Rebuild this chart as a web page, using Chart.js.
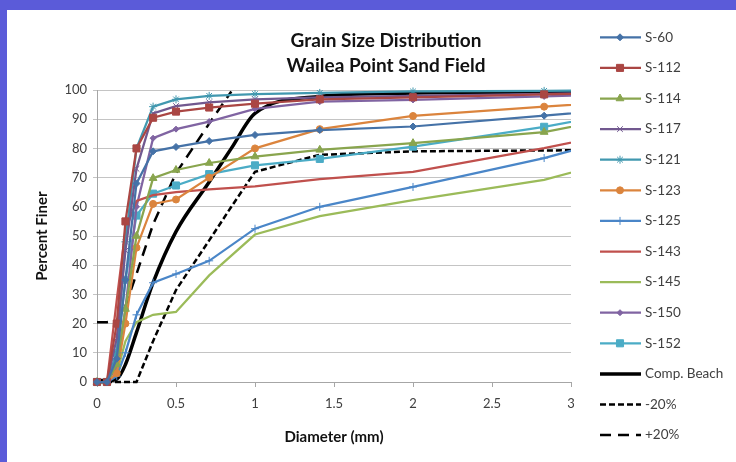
<!DOCTYPE html>
<html>
<head>
<meta charset="utf-8">
<script src="https://cdn.jsdelivr.net/npm/chart.js@4.4.1/dist/chart.umd.min.js"></script>
<style>
    html, body { margin: 0; padding: 0; }
    body { width: 736px; height: 462px; background: #5b5bd9; position: relative; overflow: hidden; }
    .panel { position: absolute; left: 7px; top: 10px; right: 0; bottom: 0; background: #fff; }
    #chart { position: absolute; left: 0; top: 0; }
</style>
</head>
<body>
<div class="panel"></div>
<canvas id="chart" width="736" height="462"></canvas>
<script>
const titleLines = ['Grain Size Distribution', 'Wailea Point Sand Field'];
const xTicks = [0, 0.5, 1, 1.5, 2, 2.5, 3];

// sieve openings (mm)
const sieveSizes = [0, 0.063, 0.125, 0.18, 0.25, 0.355, 0.5, 0.71, 1.0, 1.41, 2.0, 2.83, 4.0];
const compSizes = [0, 0.063, 0.125, 0.18, 0.25, 0.355, 0.5, 0.71, 0.85, 1.0, 1.41, 2.0, 2.83, 4.0];
const plusSizes = [0, 0.063, 0.125, 0.18, 0.25, 0.355, 0.5, 0.71, 0.85];

// percent finer per sample
const s60 = [0, 0, 8, 35, 68, 79, 80.5, 82.5, 84.6, 86.3, 87.5, 91.2, 96.7];
const s112 = [0, 0, 20, 55, 80, 90.5, 92.6, 94, 95.3, 96.8, 97.5, 98.5, 99.5];
const s114 = [0, 0, 6, 25, 50, 69.8, 72.6, 75, 77.2, 79.5, 81.8, 85.6, 98];
const s117 = [0, 0, 15, 45, 73, 92, 94.5, 95.8, 96.8, 97.5, 98, 98.7, 99.5];
const s121 = [0, 0, 10, 48, 80, 94.3, 96.8, 98, 98.6, 99, 99.5, 99.7, 100];
const s123 = [0, 0, 3, 20, 46, 61, 62.5, 70, 80, 86.6, 91.1, 94.3, 98.4];
const s125 = [0, 0, 2, 10, 23, 34, 37, 41.5, 52.5, 60, 66.8, 76.7, 93.9];
const s143 = [0, 0, 28, 52, 62, 64, 65, 66, 67, 69.5, 72, 80.1, 93];
const s145 = [0, 0, 3, 14, 20.5, 23, 24, 36.5, 50.5, 56.8, 62.3, 69.2, 86.4];
const s150 = [0, 0, 5, 25, 60, 83.5, 86.6, 89.2, 93.5, 96, 96.6, 97.8, 99.5];
const s152 = [0, 0, 10, 35, 57, 64.5, 67.3, 71.2, 74.2, 76.4, 80.6, 87.4, 99.1];
const compBeach = [0.5, 0.5, 1, 6, 17, 34, 51.5, 68.5, 80, 92, 97.8, 99, 99.3, 99.6];
const minus20 = [0, 0, 0, 0, 0, 14, 31.5, 48.5, 60, 72, 77.8, 79, 79.3, 79.6];
const plus20 = [20.5, 20.5, 21, 26, 37, 54, 71.5, 88.5, 99.5];

const FONT = 'Lato, "Open Sans", sans-serif';
const CLIP = { left: 8, top: 4, right: 0, bottom: 8 };

function pts(xs, ys) {
    return ys.map((y, i) => ({ x: xs[i], y }));
}

function sample(label, values, color, style, radius) {
    return {
        label,
        data: pts(sieveSizes, values),
        borderColor: color,
        backgroundColor: color,
        pointBackgroundColor: color,
        pointBorderColor: color,
        borderWidth: 2.25,
        pointStyle: style || 'circle',
        pointRadius: style ? radius : 0,
        pointBorderWidth: 1,
        showLine: true,
        clip: CLIP,
    };
}

const datasets = [
    sample('S-60', s60, '#4572a7', 'rectRot', 3.5),
    sample('S-112', s112, '#aa4643', 'rect', 5),
    sample('S-114', s114, '#89a54e', 'triangle', 4.5),
    sample('S-117', s117, '#71588f', 'crossRot', 4),
    sample('S-121', s121, '#4198af', 'star', 4),
    sample('S-123', s123, '#db843d', 'circle', 3.5),
    sample('S-125', s125, '#4a86c8', 'cross', 4),
    sample('S-143', s143, '#c0504d'),
    sample('S-145', s145, '#9bbb59'),
    sample('S-150', s150, '#8064a2', 'rectRot', 3),
    sample('S-152', s152, '#4bacc6', 'rect', 5),
    {
        label: 'Comp. Beach', data: pts(compSizes, compBeach), borderColor: '#000', borderWidth: 3.5,
        pointRadius: 0, showLine: true, cubicInterpolationMode: 'monotone', clip: CLIP,
    },
    {
        label: '-20%', data: pts(compSizes, minus20), borderColor: '#000', borderWidth: 2.5, borderDash: [6, 3],
        pointRadius: 0, showLine: true, clip: CLIP,
    },
    {
        label: '+20%', data: pts(plusSizes, plus20), borderColor: '#000', borderWidth: 2.5, borderDash: [11, 7],
        pointRadius: 0, showLine: true, clip: CLIP,
    },
];

const overlay = {
    id: 'overlay',
    afterDraw(chart) {
        const ctx = chart.ctx;
        ctx.save();
        ctx.fillStyle = '#111';
        ctx.font = 'bold 19px ' + FONT;
        ctx.textAlign = 'center';
        ctx.textBaseline = 'middle';
        titleLines.forEach((t, i) => ctx.fillText(t, 386, 41 + i * 25));

        chart.data.datasets.forEach((ds, i) => {
            const y = 37.3 + i * 30.6;
            ctx.strokeStyle = ds.borderColor;
            ctx.lineWidth = ds.borderWidth;
            ctx.setLineDash(ds.borderDash || []);
            ctx.beginPath();
            ctx.moveTo(600, y);
            ctx.lineTo(641, y);
            ctx.stroke();
            ctx.setLineDash([]);
            if (ds.pointRadius > 0) {
                ctx.fillStyle = ds.pointBackgroundColor;
                ctx.strokeStyle = ds.pointBorderColor;
                ctx.lineWidth = 1;
                Chart.helpers.drawPoint(ctx, { pointStyle: ds.pointStyle, radius: ds.pointRadius, borderWidth: 1, rotation: 0 }, 620, y);
            }
            ctx.fillStyle = '#404040';
            ctx.font = '13.5px ' + FONT;
            ctx.textAlign = 'left';
            ctx.fillText(ds.label, 645, y);
        });
        ctx.restore();
    },
};

new Chart(document.getElementById('chart'), {
    type: 'scatter',
    data: { datasets },
    options: {
        responsive: false,
        animation: false,
        layout: { padding: { top: 90, right: 165, bottom: 0, left: 0 } },
        plugins: { legend: { display: false }, title: { display: false }, tooltip: { enabled: false } },
        scales: {
            x: {
                type: 'linear',
                min: 0,
                max: 3,
                afterFit: (scale) => { scale.height = 80; },
                afterBuildTicks: (scale) => { scale.ticks = xTicks.map((v) => ({ value: v })); },
                ticks: {
                    color: '#404040', font: { family: FONT, size: 13 }, padding: 9, maxRotation: 0,
                    callback: (v) => String(v),
                },
                grid: { drawOnChartArea: false, drawTicks: true, tickLength: 5, color: '#a6a6a6' },
                border: { color: '#a6a6a6' },
                title: { display: true, text: 'Diameter (mm)', color: '#111', font: { family: FONT, size: 15, weight: 'bold' }, padding: { bottom: 16 } },
            },
            y: {
                min: 0,
                max: 100,
                afterFit: (scale) => { scale.width = 97; },
                ticks: { stepSize: 10, color: '#404040', font: { family: FONT, size: 13 }, padding: 6 },
                grid: { color: '#c4c4c4', tickLength: 4 },
                border: { color: '#a6a6a6' },
                title: { display: true, text: 'Percent Finer', color: '#111', font: { family: FONT, size: 15, weight: 'bold' }, padding: { top: 33 } },
            },
        },
    },
    plugins: [overlay],
});
</script>
</body>
</html>
